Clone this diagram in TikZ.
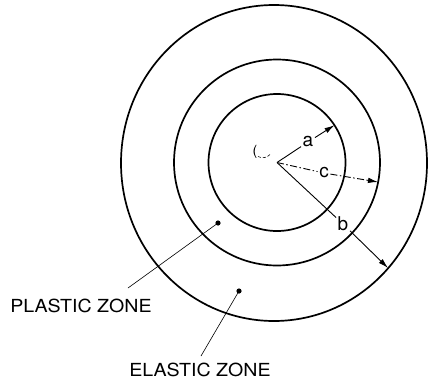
\documentclass[tikz,border=0pt]{standalone}
\usepackage{fontspec}
\setmainfont{TeX Gyre Heros}
\usetikzlibrary{arrows.meta,calc}
\tikzset{
  ring/.style={line width=1.7pt},
  radius line/.style={line width=0.9pt},
  dashdot/.style={line width=0.9pt, dash pattern=on 7pt off 2.5pt on 1.5pt off 2.5pt},
  tip/.style={-{Latex[length=10pt,width=5.5pt]}},
  leader/.style={line width=0.6pt},
  lbl/.style={inner sep=1.5pt, font=\fontsize{19}{19}\selectfont},
  zone/.style={inner sep=0pt, font=\fontsize{18}{18}\selectfont, xscale=1.09, anchor=center},
}
\begin{document}
\begin{tikzpicture}[x=1pt,y=-1pt]
\useasboundingbox (0,0) rectangle (428,383);
% centre and circles
\coordinate (O) at (277,162.5);
\draw[ring] (O) circle (68.5);
\draw[ring] (O) circle (103);
\draw[ring] (274,163) ellipse (153 and 158);
% boundary points
\coordinate (A) at ($(O)+(-33:68.5)$);
\coordinate (B) at (388,268);
\coordinate (Cc) at (378,182);
% labels
\node[lbl] (la) at (308,142) {a};
\node[lbl] (lb) at (343,224) {b};
\node[lbl] (lc) at (324,173) {c};
% radii
\draw[radius line] (O) -- (la);
\draw[radius line,tip] (la) -- (A);
\draw[radius line] (O) -- (lb);
\draw[radius line,tip] (lb) -- (B);
\draw[dashdot] (O) -- (lc);
\draw[dashdot,tip] (lc) -- (Cc);
% small mark near centre
\node[inner sep=0pt, font=\fontsize{14}{14}\selectfont] (paren) at (255,151.5) {(};
\draw[densely dashed, line width=0.6pt] (258,156.5) .. controls (262,158.5) and (267,158) .. (270,154.5);
% zone labels
\coordinate (pd) at (218,223);
\coordinate (pe) at (128,288);
\fill (pd) circle (2.6);
\draw[leader] (pd) -- (pe);
\node[zone] (plastic) at (81,305.5) {PLASTIC ZONE};
\coordinate (ed) at (239,291);
\coordinate (ee) at (201,356);
\fill (ed) circle (2.6);
\draw[leader] (ed) -- (ee);
\node[zone] (elastic) at (200,370) {ELASTIC ZONE};
\end{tikzpicture}
\end{document}
